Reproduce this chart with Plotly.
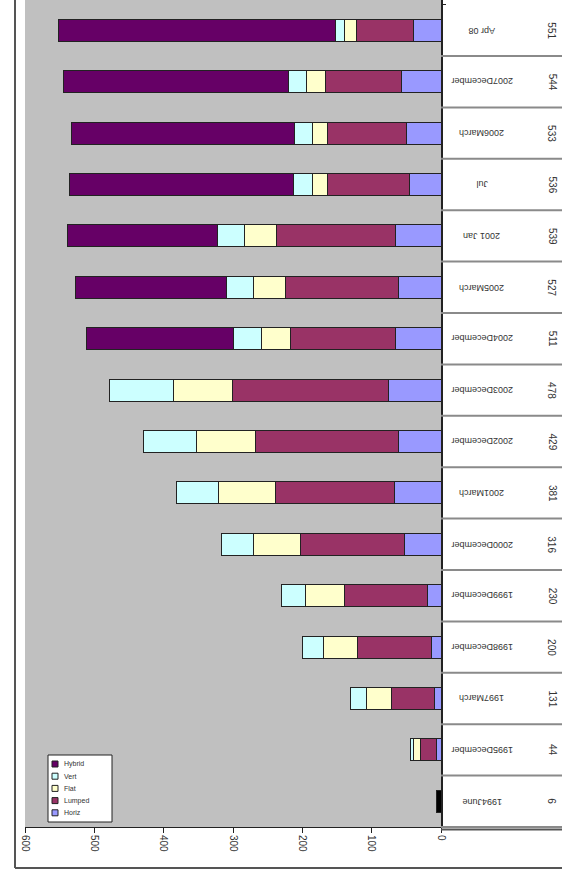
import plotly.graph_objects as go

# Categories listed top row first
categories = ["Apr 08", "2007December", "2006March", "Jul", "2001 Jan", "2005March",
              "2004December", "2003December", "2002December", "2001March",
              "2000December", "1999December", "1998December", "1997March",
              "1995December", "1994June"]

# Stacked series, from the zero axis outward
series_names = ["Horiz", "Lumped", "Flat", "Vert", "Hybrid"]
s_blue   = [40, 57, 50, 46, 65, 62, 65, 76, 62, 67, 52, 20, 14, 9, 6, 6]
s_maroon = [82, 110, 113, 118, 172, 162, 152, 225, 205, 172, 151, 119, 106, 63, 24, 0]
s_yellow = [17, 27, 22, 22, 46, 46, 42, 85, 86, 82, 67, 57, 50, 36, 10, 0]
s_cyan   = [13, 26, 27, 27, 39, 40, 40, 92, 76, 60, 46, 34, 30, 23, 4, 0]
s_purple = [399, 324, 321, 323, 217, 217, 212, 0, 0, 0, 0, 0, 0, 0, 0, 0]

x_ticks = [0, 100, 200, 300, 400, 500, 600]

colors = ["#9999ff", "#993366", "#ffffcc", "#ccffff", "#660066"]
stack = [s_blue, s_maroon, s_yellow, s_cyan, s_purple]

totals = [sum(v) for v in zip(*stack)]

fig = go.Figure()
for i, vals in enumerate(stack):
    col = colors[i]
    if i == 0:
        # the earliest point is drawn in black
        col = [colors[0]] * (len(categories) - 1) + ["#000000"]
    fig.add_trace(go.Bar(
        y=categories, x=vals, orientation="h", name=series_names[i],
        showlegend=False,
        marker=dict(color=col, line=dict(color="#222222", width=1)),
    ))

W, H = 562, 879
L, R, T, B = 25, 121, 0, 52
pw, ph = W - L - R, H - T - B

n = len(categories)
fig.update_layout(
    width=W, height=H, barmode="stack", bargap=0.57,
    margin=dict(l=L, r=R, t=T, b=B),
    paper_bgcolor="white", plot_bgcolor="#c0c0c0",
    font=dict(family="Liberation Sans, Arial", size=9, color="#222222"),
    xaxis=dict(range=[600, 0], tickvals=x_ticks, ticktext=[str(v) for v in x_ticks],
               tickangle=90, showgrid=False, zeroline=False, showline=True,
               linecolor="#222222", linewidth=1, ticks="outside", ticklen=5,
               tickcolor="#222222", tickfont=dict(size=10, color="#333333")),
    yaxis=dict(categoryorder="array", categoryarray=categories,
               range=[n - 0.5, -0.5 - 0.09], side="right", showticklabels=False,
               showgrid=False, zeroline=False, showline=True, linecolor="#222222",
               linewidth=2, ticks="outside", ticklen=3, tickson="boundaries",
               tickcolor="#222222"),
)

def px_x(px):
    return (px - L) / pw

def px_y(py):
    return 1 - (py - T) / ph

def row_center(i):
    lo, hi = n - 0.5, -0.5 - 0.09
    return (i - lo) / (hi - lo)

shapes = []
# table row separators beside the plot
for k in range(n):
    yb = (k + 0.5 - (n - 0.5)) / ((-0.59) - (n - 0.5))
    shapes.append(dict(type="line", xref="paper", yref="paper", x0=1, x1=px_x(W),
                       y0=yb, y1=yb, line=dict(color="#8a8a8a", width=2)))
# bottom line of table and outer frame
shapes.append(dict(type="line", xref="paper", yref="paper", x0=1, x1=px_x(W),
                   y0=-0.003, y1=-0.003, line=dict(color="#555555", width=2)))
shapes.append(dict(type="line", xref="paper", yref="paper", x0=px_x(15), x1=px_x(W),
                   y0=px_y(868), y1=px_y(868), line=dict(color="#555555", width=2)))
shapes.append(dict(type="line", xref="paper", yref="paper", x0=px_x(15), x1=px_x(15),
                   y0=px_y(868), y1=1.01, line=dict(color="#555555", width=2)))

# compact key box in the lower left of the plot
shapes.append(dict(type="rect", xref="paper", yref="paper", x0=px_x(48), x1=px_x(112),
                   y0=px_y(822), y1=px_y(755), fillcolor="white",
                   line=dict(color="#222222", width=1)))
anns = []
key_order = list(range(len(series_names)))[::-1]
for j, si in enumerate(key_order):
    cy = 764 + j * 12.2
    shapes.append(dict(type="rect", xref="paper", yref="paper",
                       x0=px_x(52), x1=px_x(58), y0=px_y(cy + 3), y1=px_y(cy - 3),
                       fillcolor=colors[si], line=dict(color="#222222", width=1)))
    anns.append(dict(xref="paper", yref="paper", x=px_x(62), y=px_y(cy),
                     text=series_names[si], showarrow=False, xanchor="left",
                     yanchor="middle", font=dict(size=7, color="#333333")))
fig.update_layout(shapes=shapes)

for i, (c, t) in enumerate(zip(categories, totals)):
    yc = row_center(i)
    anns.append(dict(xref="paper", yref="paper", x=px_x(482), y=yc, text=c,
                     showarrow=False, textangle=180, font=dict(size=9, color="#333333"),
                     xanchor="center", yanchor="middle"))
    anns.append(dict(xref="paper", yref="paper", x=px_x(552), y=yc, text=str(t),
                     showarrow=False, textangle=90, font=dict(size=10, color="#333333"),
                     xanchor="center", yanchor="middle"))
fig.update_layout(annotations=anns)

fig.write_html("out.html")
